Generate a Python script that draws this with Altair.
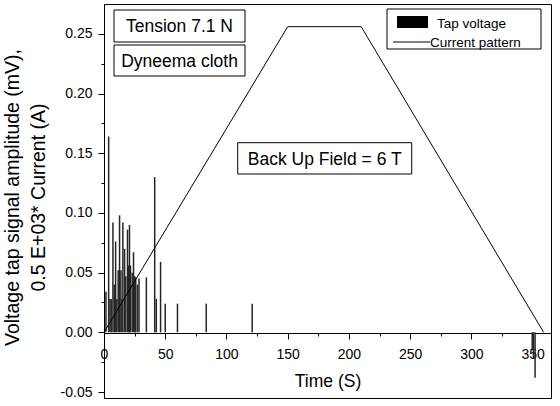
import altair as alt
import pandas as pd

# ---- data ----
tap_time = [1.6, 3.8, 4.9, 5.9, 7.3, 8.4, 9.5, 10.5, 11.6, 12.7, 13.8, 14.6, 15.4, 16.8,
            17.8, 19.2, 20.0, 20.8, 21.6, 23.0, 24.1, 25.1, 25.9, 27.3, 28.6, 34.6, 41.4,
            42.7, 46.2, 50.0, 60.0, 83.5, 121.0, 349.7, 350.7, 352.0]
tap_value = [0.034, 0.164, 0.028, 0.028, 0.092, 0.040, 0.076, 0.028, 0.052, 0.098, 0.052,
             0.028, 0.092, 0.070, 0.047, 0.086, 0.056, 0.090, 0.056, 0.050, 0.067, 0.047,
             0.046, 0.040, 0.045, 0.046, 0.130, 0.028, 0.059, 0.024, 0.024, 0.024, 0.024,
             -0.015, -0.022, -0.038]
current_time = [0, 150, 210, 359]
current_value = [0.0, 0.256, 0.256, 0.0]
x_ticks = [0, 25, 50, 75, 100, 125, 150, 175, 200, 225, 250, 275, 300, 325, 350]
y_ticks = [-0.05, -0.025, 0.0, 0.025, 0.05, 0.075, 0.1, 0.125, 0.15, 0.175, 0.2, 0.225, 0.25]

FONT = "Liberation Sans"

taps = pd.DataFrame({"t": tap_time, "v": tap_value})
current = pd.DataFrame({"t": current_time, "v": current_value})

xscale = alt.Scale(domain=[0, 365], nice=False, zero=False)
yscale = alt.Scale(domain=[-0.055, 0.275], nice=False, zero=False)

x_axis = alt.Axis(
    values=x_ticks, title="Time (S)",
    labelExpr="datum.value % 50 === 0 ? datum.label : ''",
    tickSize={"condition": {"test": "datum.value % 50 === 0", "value": 6}, "value": 3},
    offset=-65, grid=False, domainColor="black", tickColor="black",
    labelColor="black", labelFont=FONT, labelFontSize=14, labelPadding=8,
    labelFlush=False, labelOverlap=False,
    titleFont=FONT, titleFontSize=17.5, titleFontWeight="normal", titleColor="black",
    titleY=53, titleBaseline="alphabetic",
)
y_axis = alt.Axis(
    values=y_ticks,
    title=["Voltage tap signal amplitude (mV),", "0.5 E+03* Current (A)"],
    labelExpr="round(datum.value*40) % 2 === 0 ? replace(format(datum.value, '.2f'), '\u2212', '-') : ''",
    tickSize={"condition": {"test": "round(datum.value*40) % 2 === 0", "value": 6}, "value": 3},
    grid=False, domainColor="black", tickColor="black",
    labelColor="black", labelFont=FONT, labelFontSize=14, labelPadding=6,
    labelFlush=False, labelOverlap=False,
    titleFont=FONT, titleFontSize=19.5, titleFontWeight="normal", titleColor="black",
    titleLineHeight=26, titleX=-101, titleY=193, titleBaseline="top",
    titleAngle=-90, titleAlign="center",
)

X = alt.X("t:Q", scale=xscale, axis=x_axis)
Y = alt.Y("v:Q", scale=yscale, axis=y_axis)

bars = alt.Chart(taps).transform_calculate(zero="0").mark_rule(
    color="#262626", strokeWidth=1.5
).encode(x=X, y=Y, y2="zero:Q")

line = alt.Chart(current).mark_line(color="black", strokeWidth=1).encode(x=X, y=Y)

one = alt.Data(values=[{"k": 0}])


def box(x1, x2, y1, y2):
    return alt.Chart(one).mark_rect(fill="white", stroke="black", strokeWidth=1).encode(
        x=alt.value(x1), x2=alt.value(x2), y=alt.value(y1), y2=alt.value(y2))


def label(txt, x, y, size, align="center"):
    return alt.Chart(one).mark_text(
        text=txt, font=FONT, fontSize=size, align=align, baseline="alphabetic", color="black"
    ).encode(x=alt.value(x), y=alt.value(y))


annotations = [
    box(10, 141, 6, 38), label("Tension 7.1 N", 75.5, 27.7, 17.5),
    box(10, 141, 41, 72), label("Dyneema cloth", 75.5, 62.7, 17.5),
    box(133.7, 307.7, 138.7, 170), label("Back Up Field = 6 T", 220.7, 161, 17.5),
    box(283, 437, 5, 45),
    alt.Chart(one).mark_rect(fill="black").encode(
        x=alt.value(293), x2=alt.value(324), y=alt.value(12), y2=alt.value(24)),
    label("Tap voltage", 333, 24, 13.5, "left"),
    alt.Chart(one).mark_rule(color="black", strokeWidth=1).encode(
        x=alt.value(289), x2=alt.value(326), y=alt.value(38)),
    label("Current pattern", 326, 43, 13.5, "left"),
]

chart = alt.layer(bars, line, *annotations).properties(
    width=447, height=394,
    autosize=alt.AutoSizeParams(type="none"),
    padding={"left": 104, "top": 4, "right": 9, "bottom": 8},
    background="white",
).configure_view(stroke="black", strokeWidth=1)

chart.save("out.html", embed_options={"renderer": "svg", "actions": False})
